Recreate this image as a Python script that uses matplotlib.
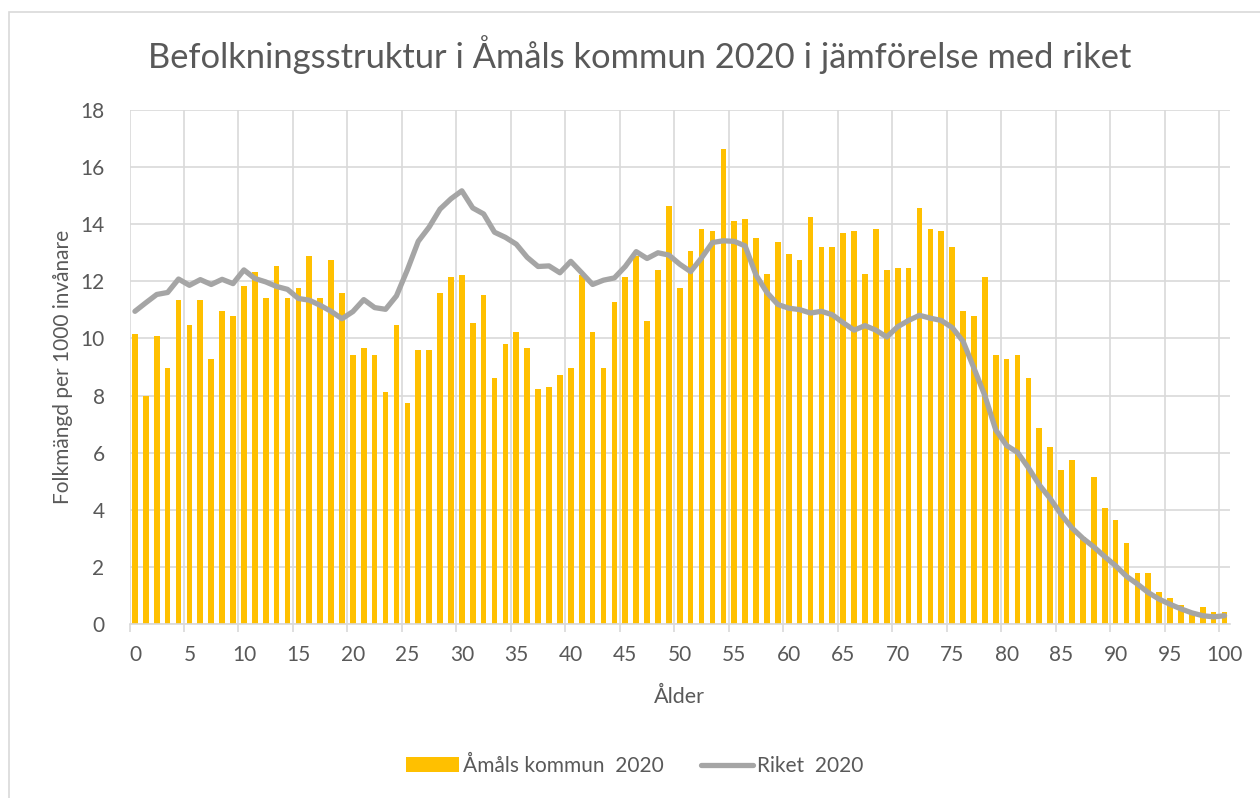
import numpy as np
import matplotlib
matplotlib.use("Agg")
import matplotlib.pyplot as plt
from matplotlib.patches import Rectangle

# ------------------------------------------------------------
# Data (per 1000 inhabitants, ages 0-100)
# ------------------------------------------------------------
ages = np.arange(0, 101)

amal_2020 = [10.16, 8.0, 10.07, 8.95, 11.36, 10.47, 11.36, 9.27, 10.95, 10.8,
             11.84, 12.33, 11.43, 12.55, 11.43, 11.75, 12.88, 11.43, 12.73, 11.59,
             9.43, 9.67, 9.43, 8.14, 10.47, 7.73, 9.58, 9.58, 11.59, 12.16,
             12.23, 10.54, 11.51, 8.63, 9.82, 10.22, 9.67, 8.22, 8.31, 8.71,
             8.95, 12.22, 10.22, 8.95, 11.27, 12.16, 12.88, 10.61, 12.4, 14.64,
             11.75, 13.05, 13.83, 13.77, 16.65, 14.1, 14.17, 13.52, 12.24, 13.36,
             12.96, 12.73, 14.24, 13.2, 13.2, 13.69, 13.77, 12.24, 13.83, 12.4,
             12.48, 12.48, 14.57, 13.83, 13.77, 13.2, 10.95, 10.8, 12.16, 9.43,
             9.27, 9.43, 8.63, 6.86, 6.2, 5.41, 5.73, 3.05, 5.16, 4.05,
             3.65, 2.84, 1.8, 1.8, 1.13, 0.92, 0.67, 0.35, 0.59, 0.42, 0.42]

riket_2020 = [10.95, 11.25, 11.54, 11.61, 12.08, 11.86, 12.06, 11.89, 12.07, 11.92,
              12.4, 12.1, 11.98, 11.82, 11.72, 11.4, 11.34, 11.16, 10.95, 10.69,
              10.94, 11.36, 11.08, 11.02, 11.49, 12.4, 13.4, 13.9, 14.53, 14.89,
              15.17, 14.57, 14.36, 13.72, 13.54, 13.3, 12.84, 12.52, 12.54, 12.3,
              12.7, 12.3, 11.89, 12.04, 12.12, 12.52, 13.04, 12.8, 13.0, 12.92,
              12.6, 12.34, 12.82, 13.36, 13.42, 13.4, 13.24, 12.22, 11.61, 11.19,
              11.06, 11.01, 10.89, 10.95, 10.83, 10.55, 10.29, 10.45, 10.29, 10.05,
              10.41, 10.63, 10.81, 10.71, 10.63, 10.38, 9.9, 8.96, 8.0, 6.8,
              6.25, 6.01, 5.47, 4.87, 4.39, 3.84, 3.36, 3.0, 2.7, 2.36,
              2.04, 1.67, 1.4, 1.1, 0.87, 0.69, 0.53, 0.39, 0.29, 0.25, 0.29]

x_labels = [str(a) for a in range(0, 101, 5)]
y_ticks = list(range(0, 19, 2))

# ------------------------------------------------------------
# Style
# ------------------------------------------------------------
plt.rcParams["font.family"] = ["Lato", "DejaVu Sans"]
text_col = "#595959"
grid_col = "#D9D9D9"
bar_col = "#FFC000"
line_col = "#A5A5A5"

fig = plt.figure(figsize=(12.6, 7.98), dpi=100)
ax = fig.add_axes([129.5 / 1260, 1 - 624 / 798, (1230 - 129.5) / 1260, (624 - 110) / 798])

# outer chart border
fig.patches.append(Rectangle((9 / 1260, -0.05), 1.1, 1 - 12 / 798 + 0.05,
                             transform=fig.transFigure, fill=False,
                             edgecolor=grid_col, linewidth=1.2))

# ------------------------------------------------------------
# Plot
# ------------------------------------------------------------
bars = ax.bar(ages, amal_2020, width=0.52, color=bar_col, zorder=2)
line, = ax.plot(ages, riket_2020, color=line_col, linewidth=3.8, zorder=3,
                solid_joinstyle="round", solid_capstyle="round")

ax.set_xlim(-0.5, 100.5)
ax.set_ylim(0, 18)

# gridlines sit between categories, labels on the categories
ax.set_xticks(np.arange(0, 101, 5) - 0.5)
ax.set_xticklabels([])
ax.set_xticks(np.arange(0, 101, 5), labels=x_labels, minor=True)
ax.tick_params(axis="x", which="major", length=6, color=grid_col, width=1.2)
ax.tick_params(axis="x", which="minor", length=0, pad=15, labelsize=15,
               labelcolor=text_col)
ax.set_yticks(y_ticks)
ax.tick_params(axis="y", length=0, pad=18, labelsize=15, labelcolor=text_col)

ax.grid(True, which="major", color=grid_col, linewidth=1.2, zorder=0)
ax.set_axisbelow(True)
for side in ["top", "right", "left"]:
    ax.spines[side].set_visible(False)
ax.spines["bottom"].set_color(grid_col)
ax.spines["bottom"].set_linewidth(1.2)

ax.set_xlabel("Ålder", fontsize=15.5, color=text_col, labelpad=16)
ax.set_ylabel("Folkmängd per 1000 invånare", fontsize=15, color=text_col,
              labelpad=5)

fig.text(640 / 1260, 1 - 55 / 798,
         "Befolkningsstruktur i Åmåls kommun 2020 i jämförelse med riket",
         ha="center", va="center", fontsize=24.8, color=text_col)

fig.legend([bars, line], ["Åmåls kommun  2020", "Riket  2020"],
           loc="center", bbox_to_anchor=(635 / 1260, 1 - 766 / 798), ncol=2,
           frameon=False, fontsize=15, labelcolor=text_col,
           handlelength=2.5, handleheight=0.75, handletextpad=0.2,
           columnspacing=1.8)

fig.savefig("out.png", dpi=100)
